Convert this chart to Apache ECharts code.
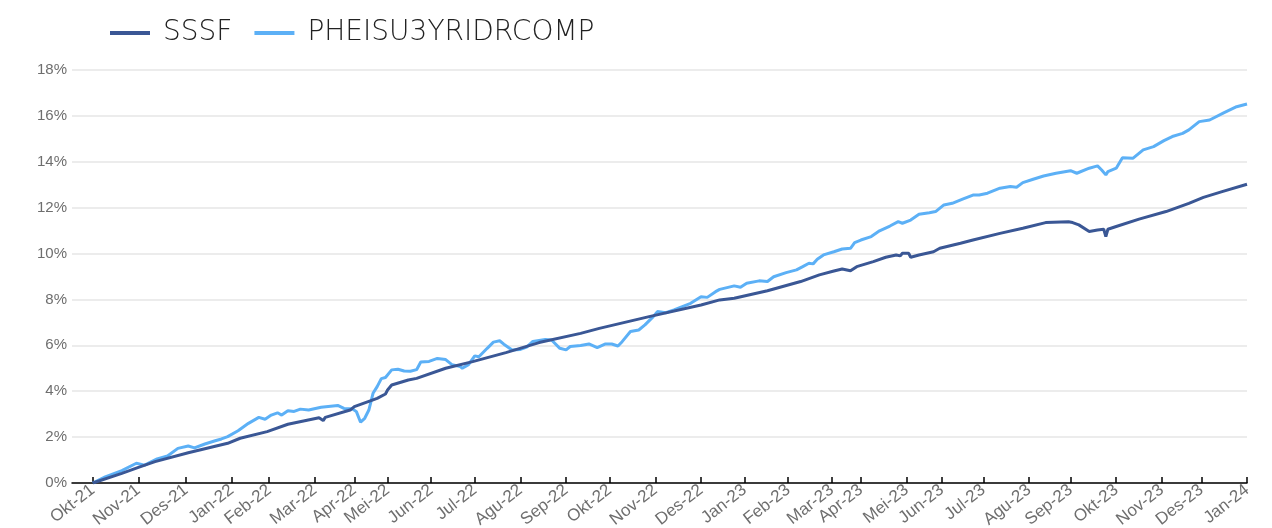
<!DOCTYPE html>
<html>
<head>
<meta charset="utf-8">
<script src="https://cdn.jsdelivr.net/npm/echarts@6/dist/echarts.min.js"></script>
<style>
html,body{margin:0;padding:0;background:#fff;}
#chart{width:1272px;height:528px;}
</style>
</head>
<body>
<div id="chart"></div>
<script>
// Month tick labels and the trading-day index at which each month starts
const monthLabels = ['Okt-21','Nov-21','Des-21','Jan-22','Feb-22','Mar-22','Apr-22','Mei-22','Jun-22','Jul-22','Agu-22','Sep-22','Okt-22','Nov-22','Des-22','Jan-23','Feb-23','Mar-23','Apr-23','Mei-23','Jun-23','Jul-23','Agu-23','Sep-23','Okt-23','Nov-23','Des-23','Jan-24'];
const monthStartDay = [0,22,45,67,85,107,126,142,163,184,206,228,249,271,293,314,335,356,370,392,409,429,451,471,493,515,534,556];

// Cumulative return (%) by trading day: [day, value]
const sssf = [
[0,0],[14,0.42],[22,0.68],[30,0.93],[46,1.32],[65,1.73],[71,1.95],[84,2.24],[94,2.56],[109,2.84],[111,2.72],[112,2.86],
[124,3.18],[126,3.33],[137,3.69],[141,3.88],[142,4.05],[144,4.27],[152,4.49],[156,4.56],[170,5.00],[183,5.29],[199,5.68],
[215,6.12],[235,6.52],[244,6.74],[268,7.25],[293,7.76],[302,7.98],[309,8.05],[325,8.38],[341,8.78],[350,9.07],[357,9.24],
[361,9.33],[365,9.25],[368,9.43],[376,9.65],[382,9.84],[387,9.94],[389,9.90],[390,10.01],[393,10.01],[394,9.84],[398,9.94],
[405,10.08],[408,10.23],[418,10.45],[424,10.59],[437,10.88],[448,11.10],[459,11.35],[470,11.39],[472,11.35],[475,11.25],
[480,10.96],[484,11.03],[487,11.06],[488,10.74],[489,11.06],[493,11.18],[504,11.50],[517,11.83],[528,12.19],[535,12.45],
[544,12.70],[556,13.02]
];
const phei = [
[0,0],[6,0.27],[14,0.54],[21,0.86],[25,0.78],[31,1.05],[36,1.18],[41,1.51],[46,1.61],[49,1.53],[54,1.70],[59,1.84],
[62,1.92],[65,2.02],[70,2.28],[75,2.60],[80,2.86],[83,2.78],[86,2.96],[89,3.06],[91,2.96],[94,3.15],[97,3.12],[100,3.22],
[104,3.18],[110,3.30],[118,3.38],[121,3.25],[125,3.24],[127,3.11],[129,2.65],[131,2.82],[133,3.18],[135,3.91],[137,4.20],
[139,4.55],[141,4.60],[144,4.93],[147,4.96],[150,4.88],[153,4.87],[156,4.94],[158,5.27],[162,5.30],[166,5.43],[170,5.38],
[173,5.16],[177,5.08],[178,5.00],[181,5.16],[184,5.54],[186,5.50],[190,5.87],[193,6.14],[196,6.20],[198,6.05],[202,5.80],
[206,5.82],[209,5.92],[212,6.17],[218,6.25],[221,6.23],[225,5.87],[228,5.80],[230,5.95],[235,5.99],[239,6.06],[243,5.90],
[247,6.06],[250,6.06],[253,5.97],[255,6.16],[259,6.60],[263,6.67],[266,6.89],[270,7.25],[272,7.47],[276,7.42],[280,7.54],
[284,7.69],[288,7.83],[293,8.12],[296,8.09],[300,8.34],[302,8.44],[309,8.59],[312,8.53],[315,8.71],[321,8.81],[325,8.78],
[328,8.99],[334,9.17],[339,9.29],[342,9.43],[345,9.58],[347,9.55],[349,9.75],[352,9.94],[357,10.08],[361,10.20],[365,10.23],
[367,10.48],[370,10.59],[375,10.74],[379,10.99],[384,11.20],[388,11.39],[390,11.32],[394,11.46],[398,11.71],[403,11.78],
[406,11.83],[410,12.12],[414,12.19],[419,12.37],[424,12.55],[427,12.55],[431,12.63],[434,12.74],[437,12.85],[442,12.92],
[445,12.89],[448,13.09],[453,13.24],[458,13.38],[464,13.50],[471,13.61],[474,13.50],[480,13.72],[484,13.82],[486,13.64],
[488,13.43],[489,13.57],[493,13.72],[496,14.18],[501,14.15],[506,14.52],[511,14.66],[516,14.92],[520,15.10],[525,15.24],
[528,15.39],[533,15.75],[538,15.82],[545,16.14],[551,16.40],[556,16.52]
];
const yTicks = [0,2,4,6,8,10,12,14,16,18];

const chart = echarts.init(document.getElementById('chart'), null, {renderer:'canvas'});
chart.setOption({
  animation:false,
  backgroundColor:'#ffffff',
  legend:{
    left:105, top:14,
    icon:'rect', itemWidth:40, itemHeight:4, itemGap:22,
    textStyle:{fontFamily:'DejaVu Sans', fontWeight:200, fontSize:28, color:'#222', padding:[0,0,0,8]},
    data:['SSSF','PHEISU3YRIDRCOMP']
  },
  grid:{left:72, right:25, top:70, bottom:45, containLabel:false, outerBoundsMode:'none'},
  xAxis:{
    type:'value', min:-10, max:556,
    splitLine:{show:false},
    axisLine:{show:true, onZero:false, lineStyle:{color:'#000', width:1.5}},
    axisTick:{show:true, inside:true, length:6, lineStyle:{color:'#000', width:1.5}, customValues:monthStartDay},
    axisLabel:{
      customValues:monthStartDay, rotate:38, margin:5,
      color:'#6e6e6e', fontFamily:'Liberation Sans', fontSize:17,
      formatter:function(v){ const i = monthStartDay.indexOf(Math.round(v)); return i>=0 ? monthLabels[i] : ''; }
    }
  },
  yAxis:{
    type:'value', min:yTicks[0], max:yTicks[yTicks.length-1], interval:2,
    axisLine:{show:false}, axisTick:{show:false},
    splitLine:{show:true, lineStyle:{color:'#e6e6e6', width:1.5}},
    axisLabel:{formatter:'{value}%', color:'#6e6e6e', fontFamily:'Liberation Sans', fontSize:15, margin:5}
  },
  series:[
    {name:'SSSF', type:'line', data:sssf, showSymbol:false, symbol:'none', z:3,
     color:'#3a5795', lineStyle:{color:'#3a5795', width:3}},
    {name:'PHEISU3YRIDRCOMP', type:'line', data:phei, showSymbol:false, symbol:'none', z:2,
     color:'#5cb0f6', lineStyle:{color:'#5cb0f6', width:3}}
  ]
});
</script>
</body>
</html>
